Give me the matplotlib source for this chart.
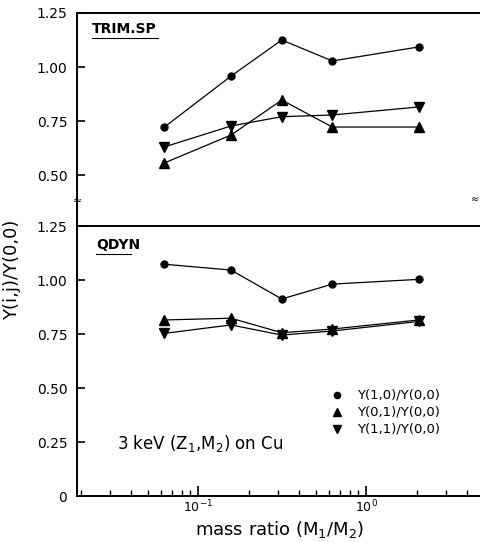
import matplotlib
matplotlib.use("Agg")
import matplotlib.pyplot as plt
from matplotlib.ticker import FixedLocator, NullFormatter, LogLocator, NullLocator

plt.rcParams['font.family'] = ['DejaVu Sans']

mass_ratio = [0.063, 0.157, 0.315, 0.63, 2.06]

trim_y10 = [0.722, 0.958, 1.125, 1.028, 1.093]
trim_y01 = [0.556, 0.685, 0.847, 0.722, 0.722]
trim_y11 = [0.630, 0.727, 0.770, 0.778, 0.815]

qdyn_y10 = [1.073, 1.046, 0.912, 0.981, 1.003]
qdyn_y01 = [0.815, 0.823, 0.756, 0.773, 0.815]
qdyn_y11 = [0.753, 0.792, 0.745, 0.764, 0.808]

legend_labels = ["Y(1,0)/Y(0,0)", "Y(0,1)/Y(0,0)", "Y(1,1)/Y(0,0)"]
top_yticks = [0.50, 0.75, 1.00, 1.25]
top_yticklabels = ["0.50", "0.75", "1.00", "1.25"]
bot_yticks = [0, 0.25, 0.50, 0.75, 1.00, 1.25]
bot_yticklabels = ["0", "0.25", "0.50", "0.75", "1.00", "1.25"]

W, H = 480, 542
fig = plt.figure(figsize=(W / 100, H / 100), dpi=100)

left = 77 / W
right = 483 / W
ax_top = fig.add_axes([left, 1 - 226 / H, right - left, 213 / H])
ax_bot = fig.add_axes([left, 1 - 496 / H, right - left, 270 / H])

xlim = (0.019, 4.97)
lw_spine = 1.4

def style_markers(ax, ys, markers, sizes):
    for y, m, s in zip(ys, markers, sizes):
        ax.plot(mass_ratio, y, color='black', lw=0.9, marker=m, ms=s,
                markerfacecolor='black', markeredgecolor='black')

markers = ['o', '^', 'v']
sizes = [5, 6.5, 6.5]

style_markers(ax_top, [trim_y10, trim_y01, trim_y11], markers, sizes)
style_markers(ax_bot, [qdyn_y10, qdyn_y01, qdyn_y11], markers, sizes)

for ax in (ax_top, ax_bot):
    ax.set_xscale('log')
    ax.set_xlim(*xlim)
    for s in ax.spines.values():
        s.set_linewidth(lw_spine)
    ax.spines['right'].set_visible(False)
    ax.tick_params(axis='y', direction='in', length=6, width=1.2,
                   labelsize=10, pad=7)
    ax.set_facecolor('none')

ax_top.set_ylim(0.264, 1.25)
ax_top.set_yticks(top_yticks)
ax_top.set_yticklabels(top_yticklabels)
ax_top.xaxis.set_major_locator(NullLocator())
ax_top.xaxis.set_minor_locator(NullLocator())

ax_bot.set_ylim(0, 1.25)
ax_bot.set_yticks(bot_yticks)
ax_bot.set_yticklabels(bot_yticklabels)
ax_bot.spines['top'].set_visible(False)
ax_bot.xaxis.set_major_locator(FixedLocator([0.1, 1.0]))
ax_bot.set_xticklabels(["10$^{-1}$", "10$^{0}$"])
ax_bot.xaxis.set_minor_locator(LogLocator(base=10, subs=range(2, 10), numticks=20))
ax_bot.xaxis.set_minor_formatter(NullFormatter())
ax_bot.tick_params(axis='x', which='major', direction='in', length=7, width=1.2,
                   labelsize=9, pad=2)
ax_bot.tick_params(axis='x', which='minor', direction='in', length=4, width=1.0)

# panel labels
ax_top.text(92 / W, 1 - 29 / H, "TRIM.SP", transform=fig.transFigure,
            fontsize=10, fontweight='bold', va='center', ha='left')
fig.add_artist(plt.Line2D([92 / W, 158 / W], [1 - 38 / H, 1 - 38 / H],
                          color='black', lw=0.8, transform=fig.transFigure))
ax_bot.text(96 / W, 1 - 245 / H, "QDYN", transform=fig.transFigure,
            fontsize=10, fontweight='bold', va='center', ha='left')
fig.add_artist(plt.Line2D([96 / W, 131 / W], [1 - 254 / H, 1 - 254 / H],
                          color='black', lw=0.8, transform=fig.transFigure))

# break marks
fig.text(77 / W, 1 - 201 / H, "≈", fontsize=8, ha='center', va='center')
fig.text(479 / W, 1 - 199 / H, "≈", fontsize=7, ha='right', va='center')

# annotation
fig.text(117 / W, 1 - 444 / H, "3 keV (Z$_1$,M$_2$) on Cu", fontsize=12,
         ha='left', va='center')

# legend
leg_y = [395, 412, 429]
for m, s, lab, yp in zip(markers, [4.5, 6, 6], legend_labels, leg_y):
    fig.add_artist(plt.Line2D([337 / W], [1 - yp / H], marker=m, ms=s,
                              color='black', lw=0, transform=fig.transFigure))
    fig.text(357 / W, 1 - yp / H, lab, fontsize=9.5, ha='left', va='center')

fig.text(12 / W, 1 - 270 / H, "Y(i,j)/Y(0,0)", rotation=90, fontsize=13,
         ha='center', va='center')
fig.text(280 / W, 1 - 529 / H, "mass ratio (M$_1$/M$_2$)", fontsize=13,
         ha='center', va='center')

fig.savefig("out.png", dpi=100)
